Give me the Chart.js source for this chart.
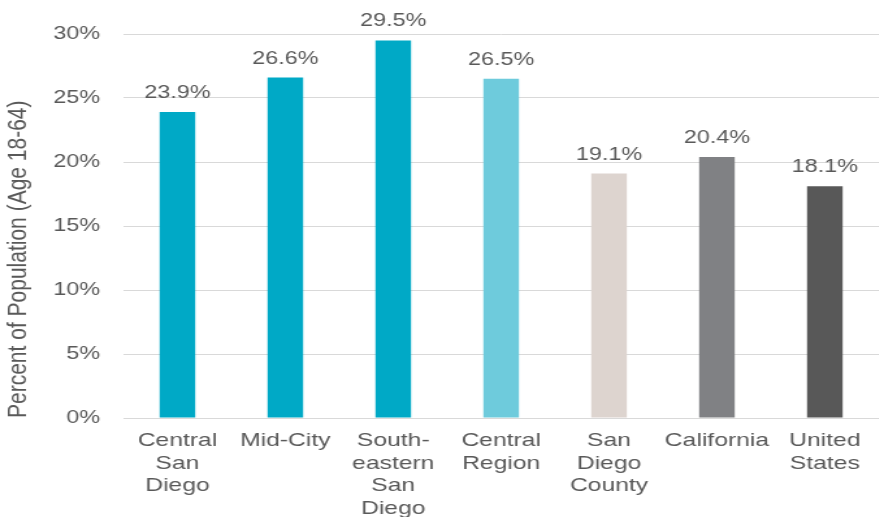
<!DOCTYPE html>
<html>
<head>
<meta charset="utf-8">
<script src="https://cdn.jsdelivr.net/npm/chart.js@4.4.1/dist/chart.umd.min.js"></script>
<style>
  html, body { margin: 0; padding: 0; background: #fff; }
  /* the source picture is stretched sideways, so the canvas is too */
  #wrap { width: 676px; height: 517px; transform: scaleX(1.3); transform-origin: 0 0; }
</style>
</head>
<body>
<div id="wrap"><canvas id="popChart" width="676" height="517"></canvas></div>
<script>
// Data
const categories = [
    ['Central', 'San', 'Diego'],
    'Mid-City',
    ['South-', 'eastern', 'San', 'Diego'],
    ['Central', 'Region'],
    ['San', 'Diego', 'County'],
    'California',
    ['United', 'States']
];
const percentValues = [23.9, 26.6, 29.5, 26.5, 19.1, 20.4, 18.1];
const barColors = ['#00a9c6', '#00a9c6', '#00a9c6', '#6ecbdc', '#ddd4cf', '#808184', '#585858'];
const yTicks = [0, 5, 10, 15, 20, 25, 30];

const textColor = '#595959';
const fontFamily = '"Liberation Sans", Arial, sans-serif';

// Value labels above each bar
const valueLabels = {
    id: 'valueLabels',
    afterDatasetsDraw(chart) {
        const ctx = chart.ctx;
        const meta = chart.getDatasetMeta(0);
        ctx.save();
        ctx.font = '18px ' + fontFamily;
        ctx.fillStyle = textColor;
        ctx.textAlign = 'center';
        ctx.textBaseline = 'alphabetic';
        meta.data.forEach(function(bar, i) {
            ctx.fillText(percentValues[i].toFixed(1) + '%', bar.x, bar.y - 14);
        });
        ctx.restore();
    }
};

const ctxPop = document.getElementById('popChart').getContext('2d');

const popChart = new Chart(ctxPop, {
    type: 'bar',
    data: {
        labels: categories,
        datasets: [{
            label: 'Percent of Population',
            data: percentValues,
            backgroundColor: barColors,
            borderWidth: 0,
            categoryPercentage: 1,
            barPercentage: 0.33
        }]
    },
    options: {
        responsive: false,
        animation: false,
        devicePixelRatio: 1,
        layout: {
            padding: { top: 34, right: 0, left: 0, bottom: 0 }
        },
        plugins: {
            legend: { display: false },
            tooltip: { enabled: false }
        },
        scales: {
            x: {
                grid: { display: false, drawTicks: false },
                border: { display: true, color: '#d9d9d9', width: 1 },
                ticks: {
                    color: textColor,
                    font: { family: fontFamily, size: 19, lineHeight: 1.18 },
                    padding: 12,
                    maxRotation: 0,
                    autoSkip: false
                },
                afterFit: function(scale) { scale.height = 99; }
            },
            y: {
                min: 0,
                max: 30,
                afterBuildTicks: function(axis) {
                    axis.ticks = yTicks.map(v => ({ value: v }));
                },
                grid: { color: '#d9d9d9', drawTicks: false },
                border: { display: false },
                ticks: {
                    color: textColor,
                    font: { family: fontFamily, size: 18 },
                    padding: 18,
                    callback: v => v + '%'
                },
                title: {
                    display: true,
                    align: 'start',
                    text: 'Percent of Population (Age 18-64)',
                    color: textColor,
                    font: { family: fontFamily, size: 21 },
                    padding: { top: 2, bottom: 4 }
                },
                afterFit: function(scale) { scale.width = 95; }
            }
        }
    },
    plugins: [valueLabels]
});
</script>
</body>
</html>
